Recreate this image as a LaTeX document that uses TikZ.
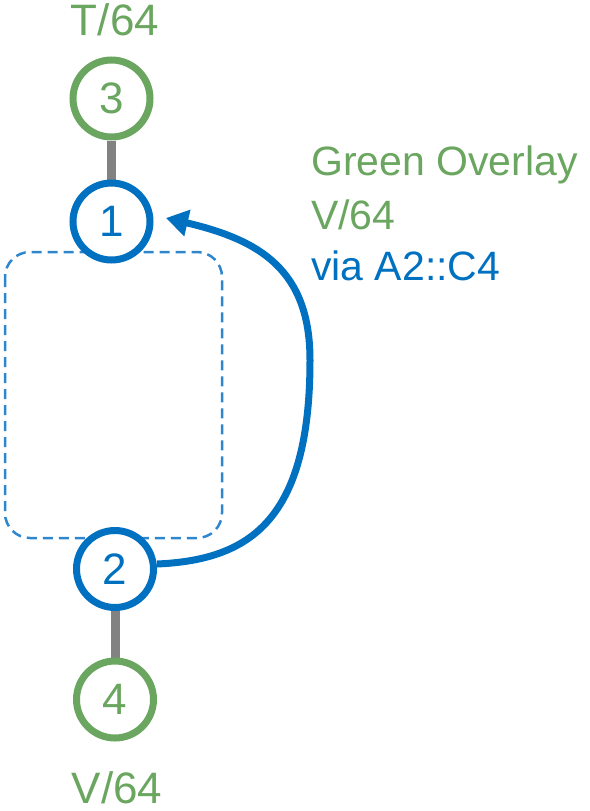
\documentclass[tikz,border=0pt]{standalone}
\usepackage{fontspec}
\setmainfont{Liberation Sans}
\usetikzlibrary{arrows.meta,backgrounds}
\definecolor{ovgreen}{RGB}{106,166,95}
\definecolor{ovblue}{RGB}{0,112,192}
\definecolor{dashblue}{RGB}{46,134,206}
\definecolor{linkgray}{RGB}{130,130,130}
\begin{document}
\begin{tikzpicture}[x=1pt,y=-1pt,
  vnode/.style={circle,draw,line width=7pt,fill=white,minimum size=77pt,inner sep=0pt,font=\fontsize{44}{50}\selectfont},
  bluenode/.style={vnode,draw=ovblue,text=ovblue},
  greennode/.style={vnode,draw=ovgreen,text=ovgreen},
  link/.style={draw=linkgray,line width=9pt},
  biglbl/.style={inner sep=0pt,anchor=base,text=ovgreen,font=\fontsize{44}{50}\selectfont},
  sidelbl/.style={inner sep=0pt,anchor=base west,font=\fontsize{41}{50}\selectfont},
  grpbox/.style={draw=dashblue,line width=2.5pt,dash pattern=on 10pt off 6pt,rounded corners=25pt},
  flow/.style={draw=ovblue,line width=7pt,-{Triangle[length=22pt,width=26pt]}}]
\useasboundingbox (0,0) rectangle (589,811);
% nodes
\node[greennode] (n3) at (111.5,98.5) {3};
\node[bluenode]  (n1) at (111.5,221.5) {1};
\node[bluenode]  (n2) at (115,569) {2};
\node[greennode] (n4) at (115,699.5) {4};
% labels
\node[biglbl] (t3) at (115,35) {T/64};
\node[biglbl] (t4) at (117,803) {V/64};
\node[sidelbl,text=ovgreen] (s1) at (311,175) {Green Overlay};
\node[sidelbl,text=ovgreen] (s2) at (311,229) {V/64};
\node[sidelbl,text=ovblue]  (s3) at (311,280) {via A2::C4};
% background parts
\begin{scope}[on background layer]
  \draw[grpbox] (5,252) rectangle (222,538);
  \draw[link] (n3.south) -- (n1.north);
  \draw[link] (n2.south) -- (n4.north);
\end{scope}
% arrow
\coordinate (tip) at (166,218);
\draw[flow] ([yshift=5pt]n2.east) .. controls (250,560) and (310,520) .. (310,360)
  .. controls (310,270) and (260,240) .. (tip);
\end{tikzpicture}
\end{document}
